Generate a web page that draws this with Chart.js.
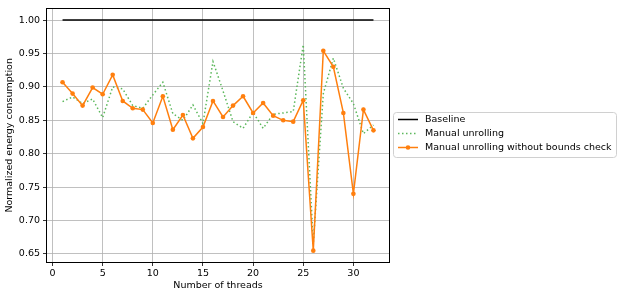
<!DOCTYPE html>
<html>
<head>
<meta charset="utf-8">
<script src="https://cdn.jsdelivr.net/npm/chart.js@4.4.0/dist/chart.umd.min.js"></script>
<style>
  html, body { margin: 0; padding: 0; background: #fff; }
</style>
</head>
<body>
<canvas id="myChart" width="623" height="297"></canvas>
<script>
var threads = [1, 2, 3, 4, 5, 6, 7, 8, 9, 10, 11, 12, 13, 14, 15, 16,
  17, 18, 19, 20, 21, 22, 23, 24, 25, 26, 27, 28, 29, 30, 31, 32];
var baselineX = [1, 32];
var baselineY = [1.0, 1.0];
var manualUnrolling = [0.878, 0.885, 0.875, 0.882, 0.854, 0.900, 0.897, 0.872, 0.868, 0.888, 0.907,
  0.860, 0.850, 0.873, 0.845, 0.938, 0.894, 0.848, 0.838, 0.862, 0.838, 0.859, 0.861, 0.863,
  0.963, 0.665, 0.890, 0.943, 0.898, 0.875, 0.830, 0.843];
var noBoundsCheck = [0.907, 0.890, 0.872, 0.899, 0.889, 0.918, 0.879, 0.868, 0.866, 0.846, 0.886,
  0.836, 0.858, 0.823, 0.840, 0.879, 0.855, 0.872, 0.886, 0.861, 0.876, 0.857, 0.850, 0.848,
  0.880, 0.655, 0.954, 0.930, 0.861, 0.740, 0.866, 0.835];
var xTicks = [0, 5, 10, 15, 20, 25, 30];
var yTicks = [0.65, 0.70, 0.75, 0.80, 0.85, 0.90, 0.95, 1.00];
var seriesNames = ["Baseline", "Manual unrolling", "Manual unrolling without bounds check"];

function toPoints(xs, ys) {
  return xs.map(function (x, i) { return { x: x, y: ys[i] }; });
}

var font = { family: "DejaVu Sans", size: 9.5 };

// top/right spines + the boxed legend outside the axes
var framePlugin = {
  id: "frame",
  afterDraw: function (chart) {
    var ctx = chart.ctx;
    var a = chart.chartArea;
    ctx.save();
    ctx.strokeStyle = "#000";
    ctx.lineWidth = 1;
    ctx.strokeRect(Math.round(a.left) - 0.5, Math.round(a.top) - 0.5,
      Math.round(a.right - a.left) + 1, Math.round(a.bottom - a.top) + 1);

    var bx = 393.5, by = 112.5, bw = 223, bh = 45;
    ctx.beginPath();
    ctx.roundRect(bx, by, bw, bh, 3);
    ctx.fillStyle = "rgba(255,255,255,0.8)";
    ctx.fill();
    ctx.strokeStyle = "#d0d0d0";
    ctx.stroke();

    ctx.font = "9.5px 'DejaVu Sans'";
    ctx.textBaseline = "middle";
    ctx.textAlign = "left";
    var rows = [119.5, 133.5, 147.5];
    chart.data.datasets.forEach(function (ds, i) {
      var y = rows[i];
      ctx.beginPath();
      ctx.setLineDash(ds.borderDash || []);
      ctx.strokeStyle = ds.borderColor;
      ctx.lineWidth = ds.borderWidth;
      ctx.moveTo(398, y);
      ctx.lineTo(418, y);
      ctx.stroke();
      ctx.setLineDash([]);
      if (ds.pointRadius > 0) {
        ctx.beginPath();
        ctx.fillStyle = ds.pointBackgroundColor;
        ctx.arc(408, y, ds.pointRadius, 0, Math.PI * 2);
        ctx.fill();
      }
      ctx.fillStyle = "#000";
      ctx.fillText(ds.label, 425, y + 0.5);
    });
    ctx.restore();
  }
};

new Chart("myChart", {
  type: "line",
  data: {
    datasets: [
      {
        label: seriesNames[0],
        data: toPoints(baselineX, baselineY),
        borderColor: "#000000",
        borderWidth: 1.5,
        pointRadius: 0,
        order: 3
      },
      {
        label: seriesNames[1],
        data: toPoints(threads, manualUnrolling),
        borderColor: "#5cb85c",
        borderWidth: 1.5,
        borderDash: [1.5, 2.5],
        pointRadius: 0,
        order: 2
      },
      {
        label: seriesNames[2],
        data: toPoints(threads, noBoundsCheck),
        borderColor: "#ff7f0e",
        borderWidth: 1.5,
        pointRadius: 2.3,
        pointBackgroundColor: "#ff7f0e",
        pointBorderWidth: 0,
        order: 1
      }
    ]
  },
  options: {
    responsive: false,
    animation: false,
    layout: { padding: { top: 7, right: 234, left: 0, bottom: 0 } },
    scales: {
      x: {
        type: "linear",
        min: -0.55,
        max: 33.55,
        afterFit: function (scale) { scale.height = 35; },
        afterBuildTicks: function (scale) {
          scale.ticks = xTicks.map(function (v) { return { value: v }; });
        },
        grid: { color: "#b0b0b0", lineWidth: 0.8, tickColor: "#000", tickLength: 4 },
        border: { display: false },
        ticks: { color: "#000", font: font, padding: 2, maxRotation: 0 },
        title: { display: true, text: "Number of threads", color: "#000", font: font, padding: { top: 0, bottom: 6 } }
      },
      y: {
        min: 0.638,
        max: 1.017,
        afterFit: function (scale) { scale.width = 47; },
        afterBuildTicks: function (scale) {
          scale.ticks = yTicks.map(function (v) { return { value: v }; });
        },
        grid: { color: "#b0b0b0", lineWidth: 0.8, tickColor: "#000", tickLength: 4 },
        border: { display: false },
        ticks: {
          color: "#000",
          font: font,
          padding: 3,
          callback: function (v) { return v.toFixed(2); }
        },
        title: { display: true, text: "Normalized energy consumption", color: "#000", font: font, padding: { top: 4, bottom: 0 } }
      }
    },
    plugins: {
      legend: { display: false },
      tooltip: { enabled: false }
    }
  },
  plugins: [framePlugin]
});
</script>
</body>
</html>
